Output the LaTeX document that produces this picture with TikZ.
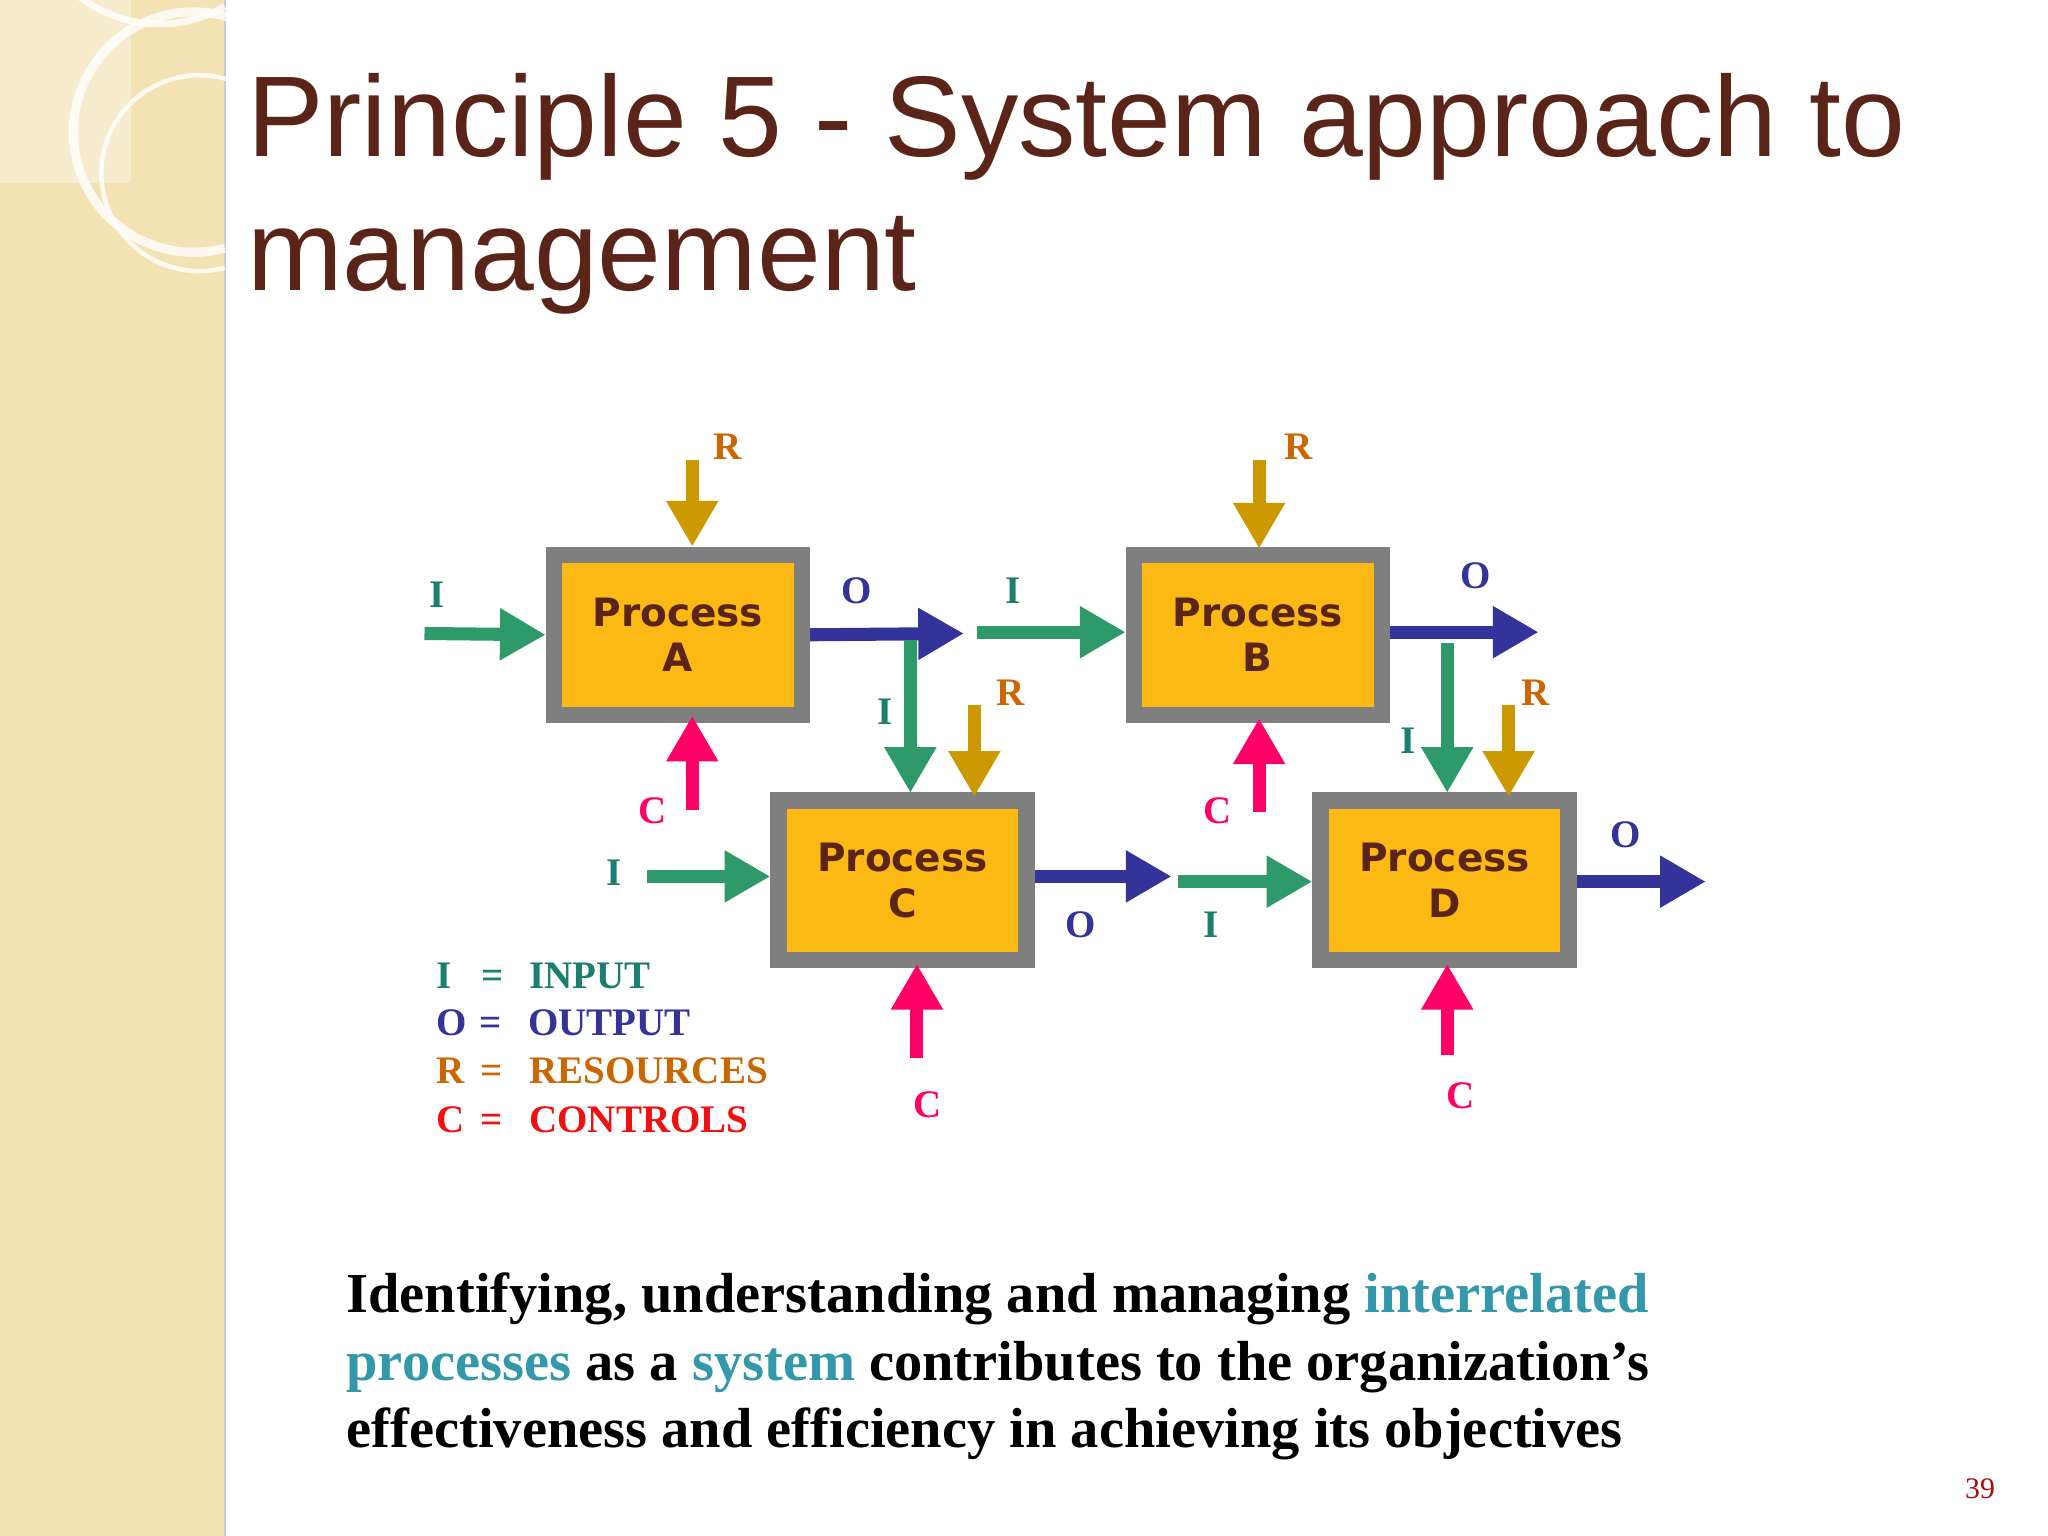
\documentclass[tikz,border=0pt]{standalone}
\usepackage{fontspec}
\setmainfont{Liberation Serif}
\newfontfamily\titlefont{Liberation Sans}
\newfontfamily\boxfont{DejaVu Sans}
\usetikzlibrary{arrows.meta}
\definecolor{beige}{HTML}{F3E2B4}
\definecolor{titlebrown}{HTML}{5A2418}
\definecolor{agreen}{HTML}{2E9A6A}
\definecolor{ablue}{HTML}{333399}
\definecolor{agold}{HTML}{CC9900}
\definecolor{apink}{HTML}{FF0066}
\definecolor{boxorange}{HTML}{FDB913}
\definecolor{boxgray}{HTML}{7F7F7F}
\definecolor{lteal}{HTML}{1A7F6E}
\definecolor{lorange}{HTML}{CC6600}
\definecolor{lred}{HTML}{F01010}
\definecolor{hl}{HTML}{3399AA}
\tikzset{
 px/.style={x=0.02cm,y=-0.02cm},
 blk/.style={line width=0.2cm,-{Triangle[length=0.7cm,width=0.75cm]}},
 ga/.style={blk,agreen}, ba/.style={blk,ablue}, ya/.style={blk,agold}, pa/.style={blk,apink},
 proc/.style={draw=boxgray,line width=0.25cm,fill=boxorange,minimum width=3.8cm,minimum height=2.45cm,
   font=\boxfont\bfseries\fontsize{17}{20}\selectfont,text=titlebrown,align=center,inner sep=0pt},
 lab/.style={font=\bfseries\fontsize{17}{20}\selectfont},
}
\begin{document}
\begin{tikzpicture}[px]
\useasboundingbox (0,0) rectangle (1568,1176);
\fill[white] (0,0) rectangle (1568,1176);
\fill[beige] (0,0) rectangle (172,1176);
\draw[boxgray!40,line width=1pt] (172,0) -- (172,1176);
\fill[white,opacity=0.35] (0,0) rectangle (100,140);
\draw[white,line width=3pt,opacity=0.8] (172,5) arc[start angle=60,end angle=250,radius=100];
\draw[white,line width=4pt,opacity=0.8] (172,190) arc[start angle=75,end angle=290,radius=92];
\draw[white,line width=2pt,opacity=0.8] (172,205) arc[start angle=75,end angle=290,radius=75];
\node[anchor=west,font=\titlefont\fontsize{50}{55}\selectfont,text=titlebrown] (t1) at (183,97) {Principle 5 - System approach to};
\node[anchor=west,font=\titlefont\fontsize{50}{55}\selectfont,text=titlebrown] (t2) at (183,203) {management};
\node[proc] (A) at (519,486) {Process\\A};
\node[proc] (B) at (963,486) {Process\\B};
\node[proc] (C) at (691,674) {Process\\C};
\node[proc] (D) at (1106,674) {Process\\D};
\coordinate (a1) at (325,485); \coordinate (a2) at (738,485);
\draw[ga] (a1) -- (A.west);
\draw[ba] (A.east) -- (a2);
\draw[ga] (697,490) -- (697,607);
\draw[ya] (746,540) -- (746,610);
\draw[ya] (530,352) -- (A.north-|530,0);
\draw[pa] (530,620) -- (530,548);
\draw[ga] (748,484) -- (B.west|-0,484);
\draw[ya] (964,352) -- (964,420);
\draw[ba] (1064,484) -- (1178,484);
\draw[ga] (1108,492) -- (1108,607);
\draw[ya] (1155,540) -- (1155,610);
\draw[pa] (964,622) -- (964,550);
\draw[ga] (495,671) -- (C.west|-0,671);
\draw[ba] (C.east|-0,671) -- (897,671);
\draw[ga] (902,675) -- (D.west|-0,675);
\draw[ba] (D.east|-0,675) -- (1306,675);
\draw[pa] (702,810) -- (702,738);
\draw[pa] (1108,808) -- (1108,738);
\node[lab,text=lteal] (l1) at (335,455) {I};
\node[lab,text=ablue] (l2) at (656,452) {O};
\node[lab,text=lteal] (l3) at (678,545) {I};
\node[lab,text=lorange] (l4) at (774,530) {R};
\node[lab,text=lorange] (l5) at (557,342) {R};
\node[lab,text=apink] (l6) at (500,621) {C};
\node[lab,text=lteal] (l7) at (776,452) {I};
\node[lab,text=lorange] (l8) at (994,342) {R};
\node[lab,text=ablue] (l9) at (1130,441) {O};
\node[lab,text=lteal] (l10) at (1078,567) {I};
\node[lab,text=lorange] (l11) at (1176,530) {R};
\node[lab,text=apink] (l12) at (932,621) {C};
\node[lab,text=lteal] (l13) at (470,668) {I};
\node[lab,text=ablue] (l14) at (827,708) {O};
\node[lab,text=lteal] (l15) at (927,708) {I};
\node[lab,text=ablue] (l16) at (1245,639) {O};
\node[lab,text=apink] (l17) at (710,846) {C};
\node[lab,text=apink] (l18) at (1118,839) {C};
\node[lab,text=lteal,anchor=west] (g1) at (328,747) {I\hspace{0.45cm}=\hspace{0.4cm}INPUT};
\node[lab,text=ablue,anchor=west] (g2) at (328,783) {O\hspace{0.2cm}=\hspace{0.4cm}OUTPUT};
\node[lab,text=lorange,anchor=west] (g3) at (328,820) {R\hspace{0.25cm}=\hspace{0.4cm}RESOURCES};
\node[lab,text=lred,anchor=west] (g4) at (328,857) {C\hspace{0.25cm}=\hspace{0.4cm}CONTROLS};
\node[anchor=north west,align=left,font=\bfseries\fontsize{24.6}{29.5}\selectfont,inner sep=0pt] (txt) at (265,974)
{Identifying, understanding and managing \textcolor{hl}{interrelated}\\
\textcolor{hl}{processes} as a \textcolor{hl}{system} contributes to the organization’s\\
effectiveness and efficiency in achieving its objectives};
\node[font=\fontsize{13}{15}\selectfont,text=lred!70!black] (pg) at (1516,1140) {39};
\end{tikzpicture}
\end{document}
